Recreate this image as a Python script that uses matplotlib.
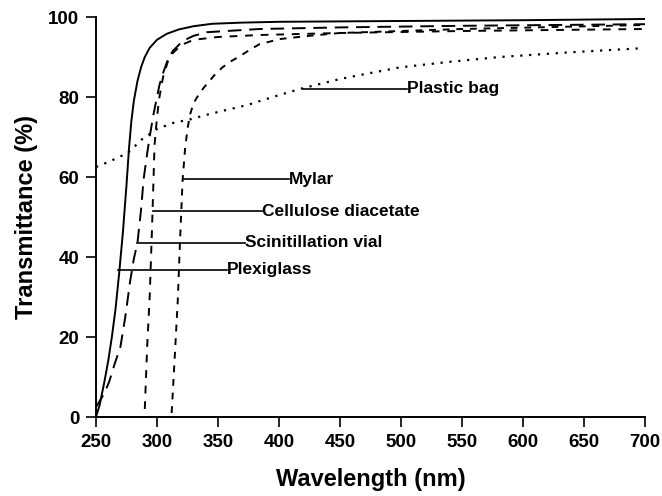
import matplotlib
matplotlib.use("Agg")
import matplotlib.pyplot as plt

plt.rcParams['font.family'] = ['Liberation Sans', 'DejaVu Sans']

# Data
plexi_x = [250, 253, 257, 260, 263, 266, 269, 272, 275, 277, 279, 281, 284, 287, 290, 294,
           300, 308, 318, 330, 345, 370, 400, 500, 600, 700]
plexi_y = [0, 3, 9, 14, 20, 27, 36, 46, 58, 67, 74, 79, 84, 87.5, 90, 92.3,
           94.3, 95.8, 96.9, 97.7, 98.3, 98.6, 98.8, 99.0, 99.2, 99.5]

scint_x = [250, 254, 257, 261, 265, 270, 274, 278, 281, 284, 287, 289, 292, 294, 297, 300,
           302, 305, 309, 313, 321, 330, 341, 384, 450, 550, 700]
scint_y = [2.5, 4.5, 6, 9, 13, 17.5, 25, 34, 39.5, 43.6, 52, 59.4, 66, 70, 75.5, 80,
           83, 86, 89.5, 91.5, 94, 95.3, 96.2, 97.0, 97.4, 97.8, 98.2]

cell_x = [290, 292, 294, 296, 297, 298, 300, 302, 305, 309, 313, 320, 330, 350, 384, 450, 550, 700]
cell_y = [2, 18, 30, 48, 58, 68, 75, 80, 85, 89, 91, 93, 94.3, 95, 95.5, 96, 96.5, 97]

mylar_x = [312, 314, 317, 319, 321, 323, 325, 327, 330, 333, 338, 343, 348, 354, 361, 368,
           376, 384, 401, 425, 450, 500, 550, 625, 700]
mylar_y = [1, 12, 29, 45, 59.4, 67, 72, 75.5, 78.5, 80, 82.2, 84, 85.8, 87.5, 89, 90.2,
           91.8, 93.2, 94.5, 95.3, 96, 96.5, 97, 97.5, 98]

bag_x = [250, 262, 276, 288, 300, 313, 327, 340, 352, 374, 395, 417, 450, 475, 499, 540, 581, 640, 698]
bag_y = [62.5, 64, 66, 69.5, 72, 73.5, 74.4, 75.5, 76.4, 78, 80, 82, 84.5, 86, 87.4, 88.8, 90, 91.2, 92.2]

labels = ["Plastic bag", "Mylar", "Cellulose diacetate", "Scinitillation vial", "Plexiglass"]
label_start_x = [420, 321, 297, 284, 268]
label_end_x = [505, 408, 386, 372, 357]
label_y = [82, 59.4, 51.4, 43.6, 36.8]

xticks = [250, 300, 350, 400, 450, 500, 550, 600, 650, 700]
yticks = [0, 20, 40, 60, 80, 100]

fig = plt.figure(figsize=(6.62, 4.96), dpi=100)
ax = fig.add_axes([96/662, 1 - 417/496, (645-96)/662, (417-17)/496])

ax.plot(plexi_x, plexi_y, color='black', lw=1.4, linestyle='-')
ax.plot(scint_x, scint_y, color='black', lw=1.4, linestyle=(0, (7, 4)))
ax.plot(cell_x, cell_y, color='black', lw=1.4, linestyle=(0, (4, 4)))
ax.plot(mylar_x, mylar_y, color='black', lw=1.4, linestyle=(0, (3.5, 3.5)))
ax.plot(bag_x, bag_y, color='black', lw=1.6, linestyle=(0, (1, 3)))

for lab, x0, x1, y in zip(labels, label_start_x, label_end_x, label_y):
    ax.plot([x0, x1], [y, y], color='black', lw=1.2)
    ax.text(x1, y, lab, fontsize=12.5, fontweight='bold', ha='left', va='center')

ax.set_xlim(250, 700)
ax.set_ylim(0, 100)
ax.set_xticks(xticks)
ax.set_yticks(yticks)
ax.spines['top'].set_visible(False)
ax.spines['right'].set_visible(False)
for s in ('left', 'bottom'):
    ax.spines[s].set_linewidth(1.4)
ax.tick_params(direction='out', length=7, width=1.2, labelsize=13.5, pad=5)
for lbl in ax.get_xticklabels() + ax.get_yticklabels():
    lbl.set_fontweight('bold')
ax.set_xlabel('Wavelength (nm)', fontsize=17, fontweight='bold')
ax.set_ylabel('Transmittance (%)', fontsize=17, fontweight='bold')
ax.xaxis.set_label_coords(0.5, -0.128)
ax.yaxis.set_label_coords(-0.106, 0.5)

fig.savefig('out.png', dpi=100)
